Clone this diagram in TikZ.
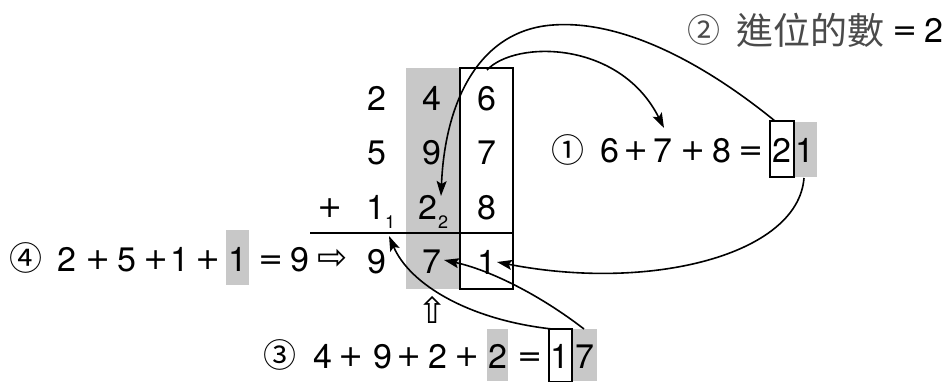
\documentclass[tikz,border=0pt]{standalone}
\usepackage{fontspec}
\setmainfont{TeX Gyre Heros}
\newfontfamily\cjk{Noto Sans CJK TC}
\newfontfamily\symf{DejaVu Sans}
\usetikzlibrary{arrows.meta}
\definecolor{shadegray}{HTML}{C8C8C8}
\definecolor{txtgray}{HTML}{4A4A4A}
\newcommand{\dig}{\fontsize{34}{34}\selectfont}
\newcommand{\opf}{\symf\fontsize{30}{30}\selectfont}
\newcommand{\subdig}{\fontsize{18}{18}\selectfont}
\newcommand{\circf}{\cjk\fontsize{33}{33}\selectfont}
\begin{document}
\begin{tikzpicture}[x=1pt,y=-1pt,
  tok/.style={inner sep=0pt,anchor=base,font=\dig},
  optok/.style={inner sep=0pt,anchor=base,font=\opf},
  subtok/.style={inner sep=0pt,anchor=base,font=\subdig},
  circ/.style={inner sep=0pt,anchor=center,font=\circf},
  arr/.style={line width=1.6pt,-{Stealth[length=15pt,width=10pt,inset=3pt]}},
  boxline/.style={line width=1.4pt},
  symtok/.style={inner sep=0pt,anchor=center,font=\symf\fontsize{36}{36}\selectfont}]
\path[use as bounding box] (0,0) rectangle (951,381);
% column shading and box
\fill[shadegray] (406,68) rectangle (460,289);
\draw[boxline] (460,68) rectangle (513,289);
\draw[boxline] (310,233) -- (513,233);
% column digits
\node[tok] (a1) at (377,110) {2};
\node[tok] (b1) at (432,110) {4};
\node[tok] (c1) at (487,110) {6};
\node[tok] (a2) at (377,164) {5};
\node[tok] (b2) at (432,164) {9};
\node[tok] (c2) at (487,164) {7};
\node[optok] (plus) at (330,217) {+};
\node[tok] (a3) at (376,219) {1};
\node[subtok] (a3s) at (390,228) {1};
\node[tok] (b3) at (428,219) {2};
\node[subtok] (b3s) at (443,228) {2};
\node[tok] (c3) at (487,219) {8};
\node[tok] (a4) at (377,273) {9};
\node[tok] (b4) at (432,273) {7};
\node[tok] (c4) at (487,274) {1};
% equation 2
\node[circ,text=txtgray] (q2) at (704,30) {②};
\node[inner sep=0pt,anchor=base west,font=\cjk\fontsize{37}{37}\selectfont,text=txtgray] (q2t) at (736,44) {進位的數};
\node[optok] (q2e) at (905,40) {=};
\node[tok] (q2n) at (934,42) {2};
% equation 1
\fill[shadegray] (794,122) rectangle (817,177);
\draw[boxline] (770,121) rectangle (794,177);
\node[circ] (q1) at (568,150) {①};
\node[tok] (e1a) at (610,162) {6};
\node[optok] (e1p1) at (636,160) {+};
\node[tok] (e1b) at (663,162) {7};
\node[optok] (e1p2) at (693,160) {+};
\node[tok] (e1c) at (722,162) {8};
\node[optok] (e1e) at (751,160) {=};
\node[tok] (e1t) at (782,162) {2};
\node[tok] (e1u) at (805,162) {1};
% equation 4
\fill[shadegray] (226,230) rectangle (249,285);
\node[circ] (q4) at (26,258) {④};
\node[tok] (e4a) at (67,271) {2};
\node[optok] (e4p1) at (98,269) {+};
\node[tok] (e4b) at (127,271) {5};
\node[optok] (e4p2) at (156,269) {+};
\node[tok] (e4c) at (180,271) {1};
\node[optok] (e4p3) at (208,269) {+};
\node[tok] (e4d) at (237.5,271) {1};
\node[optok] (e4e) at (271,269) {=};
\node[tok] (e4r) at (300,271) {9};
\node[symtok] (rarr) at (333,259) {⇨};
% equation 3
\fill[shadegray] (487,329) rectangle (508,381);
\fill[shadegray] (572,329) rectangle (597,381);
\draw[boxline] (549,329) rectangle (572,381.5);
\node[circ] (q3) at (280,355) {③};
\node[tok] (e3a) at (323,368) {4};
\node[optok] (e3p1) at (351,366) {+};
\node[tok] (e3b) at (383,368) {9};
\node[optok] (e3p2) at (409,366) {+};
\node[tok] (e3c) at (438,368) {2};
\node[optok] (e3p3) at (467,366) {+};
\node[tok] (e3d) at (497.5,368) {2};
\node[optok] (e3e) at (530,366) {=};
\node[tok] (e3t) at (560,368) {1};
\node[tok] (e3u) at (585,368) {7};
\node[symtok] (uarr) at (433,310) {⇧};
% connectors
\coordinate (s2) at (775,121);
\coordinate (pk) at (553,25);
\coordinate (t2) at (441,196);
\draw[arr] (s2) .. controls (700,60) and (620,20) .. (pk)
  .. controls (480,30) and (445,100) .. (t2);
\coordinate (s1) at (487,70);
\coordinate (t1) at (664,128);
\draw[arr] (s1) .. controls (515,40) and (620,40) .. (t1);
\coordinate (s3) at (804,178);
\coordinate (t3) at (497,262);
\draw[arr] (s3) .. controls (798,255) and (650,292) .. (t3);
\coordinate (s4) at (552,329);
\coordinate (t4) at (389,236);
\draw[arr] (s4) .. controls (470,320) and (410,285) .. (t4);
\coordinate (s5) at (584,329);
\coordinate (t5) at (444,260);
\draw[arr] (s5) .. controls (540,295) and (490,270) .. (t5);
\end{tikzpicture}
\end{document}
